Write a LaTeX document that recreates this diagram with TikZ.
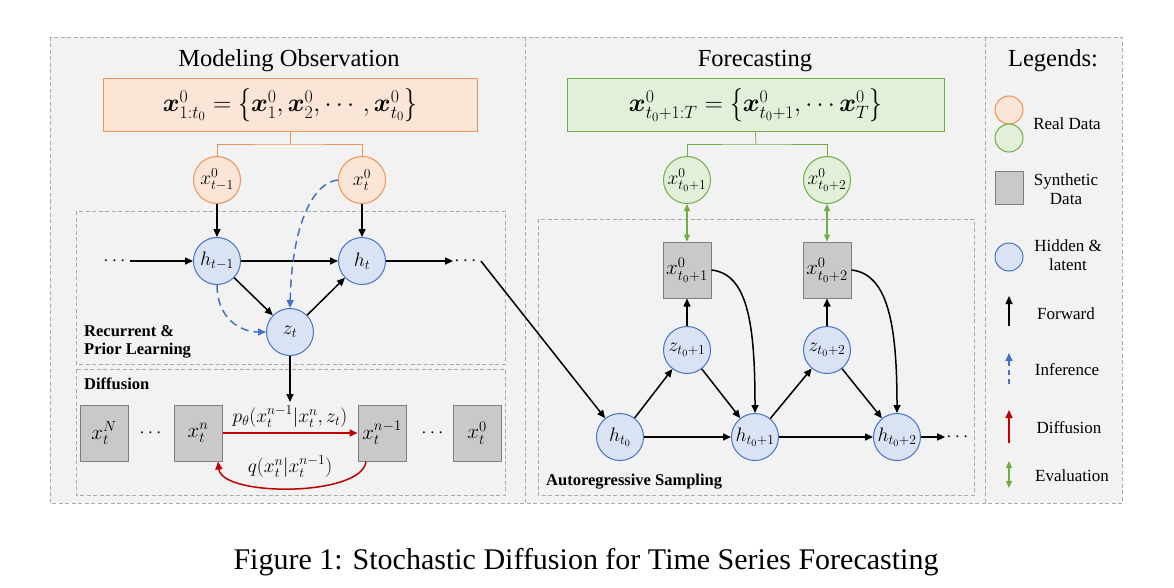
\RequirePackage{fix-cm}
\documentclass[tikz,border=0pt]{standalone}
\usepackage{amsmath}
\usepackage{bm}
\usepackage{graphicx}
\usepackage{fontspec}
\setmainfont{Liberation Serif}
\usetikzlibrary{arrows.meta,calc}
\newcommand{\mylbr}{\mathopen{\raisebox{-2pt}{\scalebox{1}[1.3]{$\{$}}}}
\newcommand{\myrbr}{\mathclose{\raisebox{-2pt}{\scalebox{1}[1.3]{$\}$}}}}
\definecolor{bgc}{RGB}{242,242,242}
\definecolor{dashc}{RGB}{170,170,170}
\definecolor{orgfill}{RGB}{251,229,214}
\definecolor{orgline}{RGB}{240,145,85}
\definecolor{grnfill}{RGB}{226,240,217}
\definecolor{grnline}{RGB}{112,173,71}
\definecolor{bluefill}{RGB}{218,227,243}
\definecolor{blueline}{RGB}{68,114,196}
\definecolor{grayfill}{RGB}{201,201,201}
\definecolor{grayline}{RGB}{127,127,127}
\definecolor{redc}{RGB}{192,0,0}
\tikzset{
  dbox/.style={draw=dashc, dash pattern=on 4pt off 2.5pt, line width=0.8pt},
  nodefont/.style={font=\fontsize{19.5}{19.5}\selectfont},
  hid/.style={circle, draw=blueline, fill=bluefill, minimum size=47pt, inner sep=0pt, line width=1pt, nodefont},
  obs/.style={circle, draw=orgline, fill=orgfill, minimum size=47pt, inner sep=0pt, line width=1pt, nodefont},
  fobs/.style={circle, draw=grnline, fill=grnfill, minimum size=47pt, inner sep=0pt, line width=1pt, nodefont},
  syn/.style={rectangle, draw=grayline, fill=grayfill, minimum width=48pt, minimum height=56pt, inner sep=0pt, line width=1pt, font=\fontsize{21}{21}\selectfont},
  dots/.style={inner sep=1pt, font=\fontsize{19}{19}\selectfont},
  fwd/.style={-{Triangle[length=8pt,width=7pt]}, line width=1.5pt, black},
  inf/.style={-{Triangle[length=8pt,width=7pt]}, line width=1.5pt, blueline, dash pattern=on 8pt off 5pt},
  dif/.style={-{Triangle[length=8pt,width=7pt]}, line width=1.5pt, redc},
  eva/.style={{Triangle[length=7pt,width=6pt]}-{Triangle[length=7pt,width=6pt]}, line width=1.3pt, grnline},
  ttl/.style={font=\fontsize{24.5}{24.5}\selectfont, inner sep=0pt},
  lbl/.style={font=\fontsize{16.5}{17.5}\selectfont\bfseries, anchor=west, align=left, inner sep=0pt},
  leg/.style={font=\fontsize{17}{19}\selectfont, align=center, inner sep=0pt},
  fbox/.style={minimum height=53pt, inner sep=0pt, line width=1pt, font=\fontsize{25.5}{25.5}\selectfont}
}
\begin{document}
\begin{tikzpicture}[x=1pt,y=-1pt]
\useasboundingbox (0,0) rectangle (1174,588);
% frames
\fill[white] (0,0) rectangle (1174,588);
\draw[dbox, fill=bgc] (50,37) rectangle (1122,503);
\draw[dbox] (525,37) -- (525,503);
\draw[dbox] (985,37) -- (985,503);
\draw[dbox] (76,211) rectangle (505,364);
\draw[dbox] (76,369) rectangle (505,495);
\draw[dbox] (538,219) rectangle (974,495);

% titles
\node[ttl, anchor=base] (t1) at (289,67) {Modeling Observation};
\node[ttl, anchor=base] (t2) at (755,67) {Forecasting};
\node[ttl, anchor=base] (t3) at (1053,67) {Legends:};

% formula boxes
\node[fbox, draw=orgline, fill=orgfill, minimum width=374pt] (fo) at (290,105.5)
  {$\bm{x}^0_{1:t_0} = \mylbr\bm{x}^0_1, \bm{x}^0_2, \cdots, \bm{x}^0_{t_0}\myrbr$};
\node[fbox, draw=grnline, fill=grnfill, minimum width=377pt] (ff) at (755.5,105.5)
  {$\bm{x}^0_{t_0+1:T} = \mylbr\bm{x}^0_{t_0+1}, \cdots \bm{x}^0_{T}\myrbr$};

% left: observations and recurrent part
\node[obs] (xo1) at (217,180) {$x^0_{t-1}$};
\node[obs] (xo2) at (362,180) {$x^0_t$};
\node[hid] (h1) at (217,261) {$h_{t-1}$};
\node[hid] (h2) at (362,261) {$h_t$};
\node[hid] (zt) at (290,332) {$z_t$};
\node[dots] (dl) at (116,261) {$\cdots$};
\node[dots] (dr) at (467,261) {$\cdots$};

\coordinate (ob) at (290,144);
\draw[orgline, line width=0.8pt] (fo.south) -- (ob);
\draw[orgline, line width=0.8pt] (xo1.north) |- (ob) -| (xo2.north);

\draw[fwd] (xo1) -- (h1);
\draw[fwd] (xo2) -- (h2);
\draw[fwd] (dl) -- (h1);
\draw[fwd] (h1) -- (h2);
\draw[fwd] (h2) -- (dr);
\draw[fwd] (h1) -- (zt);
\draw[fwd] (zt) -- (h2);
\draw[inf] (xo2.west) .. controls (315,182) and (292,220) .. (zt.north);
\draw[inf] (h1.south) .. controls (217,318) and (240,332) .. (zt.west);

\node[lbl] (lr) at (84,342) {Recurrent \&\\Prior Learning};
\node[lbl] (ld) at (84,384) {Diffusion};

% diffusion
\node[syn] (bN) at (104,433) {$x_t^N$};
\node[dots] (d1) at (152,433) {$\cdots$};
\node[syn] (bn) at (198,433) {$x_t^n$};
\node[syn] (bn1) at (382,433) {$x_t^{n-1}$};
\node[dots] (d2) at (434,433) {$\cdots$};
\node[syn] (b0) at (477,433) {$x_t^0$};
\coordinate (zin) at (290,402);
\draw[fwd] (zt) -- (zin);
\draw[dif] (bn) -- (bn1);
\node[nodefont, inner sep=0pt] (pl) at (290,417) {$p_\theta(x_t^{n-1}|x_t^n,z_t)$};
\draw[dif] ([xshift=-16pt]bn1.south) .. controls (362,497) and (222,497) .. ([xshift=20pt]bn.south);
\node[nodefont, inner sep=0pt] (ql) at (290,467) {$q(x_t^n|x_t^{n-1})$};

% right: forecasting
\node[fobs] (xf1) at (687,180) {$x^0_{t_0+1}$};
\node[fobs] (xf2) at (827,180) {$x^0_{t_0+2}$};
\coordinate (gb) at (756,144);
\draw[grnline, line width=0.8pt] (ff.south) -- (gb);
\draw[grnline, line width=0.8pt] (xf1.north) |- (gb) -| (xf2.north);

\node[syn] (sf1) at (687,270) {$x^0_{t_0+1}$};
\node[syn] (sf2) at (827,270) {$x^0_{t_0+2}$};
\node[hid] (zf1) at (687,350) {$z_{t_0+1}$};
\node[hid] (zf2) at (827,350) {$z_{t_0+2}$};
\node[hid] (ht0) at (620,437) {$h_{t_0}$};
\node[hid] (ht1) at (755,437) {$h_{t_0+1}$};
\node[hid] (ht2) at (897,437) {$h_{t_0+2}$};
\node[dots] (df) at (959,437) {$\cdots$};

\draw[fwd] (dr.east) -- (ht0);
\draw[eva] (xf1) -- (sf1);
\draw[eva] (xf2) -- (sf2);
\draw[fwd] (ht0) -- (zf1);
\draw[fwd] (zf1) -- (sf1);
\draw[fwd] (zf1) -- (ht1);
\draw[fwd] (ht0) -- (ht1);
\draw[fwd] (ht1) -- (zf2);
\draw[fwd] (zf2) -- (sf2);
\draw[fwd] (zf2) -- (ht2);
\draw[fwd] (ht1) -- (ht2);
\draw[fwd] (ht2) -- (df);
\draw[fwd] (sf1.east) .. controls +(36,4) and +(0,-90) .. (ht1.north);
\draw[fwd] (sf2.east) .. controls +(36,4) and +(0,-90) .. (ht2.north);

\node[lbl] (la) at (546,482) {Autoregressive Sampling};

% legend
\node[obs, minimum size=28pt] (lo) at (1009,110) {};
\node[fobs, minimum size=28pt] (lg) at (1009,138) {};
\node[leg] (lt1) at (1067,124) {Real Data};
\node[syn, minimum width=28pt, minimum height=33pt] (ls) at (1009,188) {};
\node[leg] (lt2) at (1066,189) {Synthetic\\Data};
\node[hid, minimum size=28pt] (lh) at (1009,257) {};
\node[leg] (lt3) at (1068,255) {Hidden \&\\latent};
\coordinate (fa1) at (1009,326);
\coordinate (fa2) at (1009,296);
\draw[fwd] (fa1) -- (fa2);
\node[leg] (lt4) at (1066,314) {Forward};
\coordinate (ia1) at (1009,384);
\coordinate (ia2) at (1009,353);
\draw[inf, dash pattern=on 5pt off 4pt] (ia1) -- (ia2);
\node[leg] (lt5) at (1067,370) {Inference};
\coordinate (da1) at (1009,443);
\coordinate (da2) at (1009,410);
\draw[dif] (da1) -- (da2);
\node[leg] (lt6) at (1069,428) {Diffusion};
\coordinate (ea1) at (1009,488);
\coordinate (ea2) at (1009,461);
\draw[eva] (ea1) -- (ea2);
\node[leg] (lt7) at (1072,476) {Evaluation};

% caption
\node[font=\fontsize{30}{30}\selectfont, anchor=base] (cap) at (586,569) {Figure 1: Stochastic Diffusion for Time Series Forecasting};
\end{tikzpicture}
\end{document}
